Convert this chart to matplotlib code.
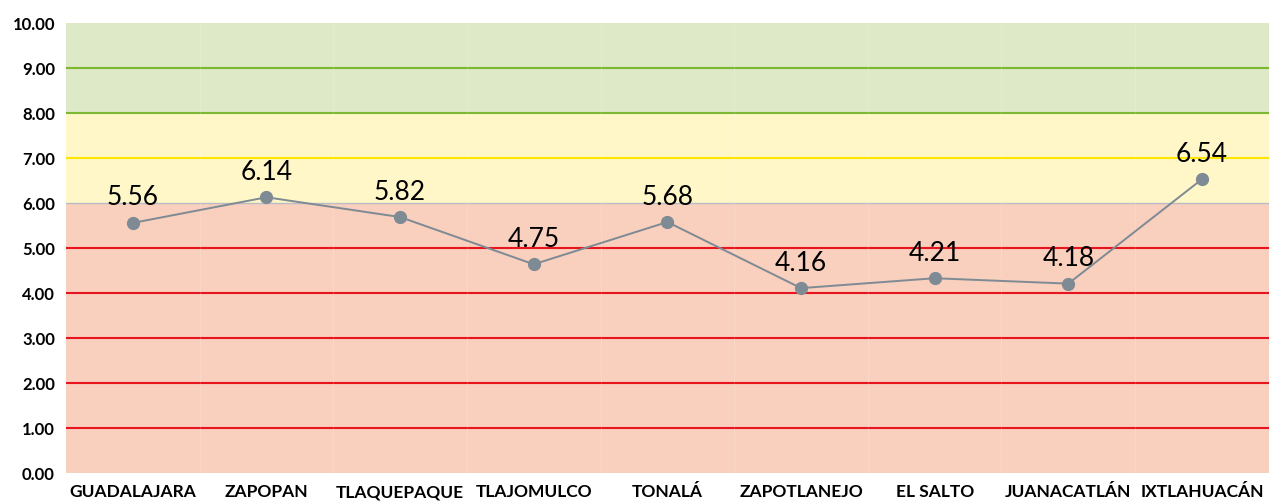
import numpy as np
import matplotlib
matplotlib.use('Agg')
import matplotlib.pyplot as plt

plt.rcParams['font.family'] = ['Lato', 'DejaVu Sans']

# Datos
municipios = ['GUADALAJARA', 'ZAPOPAN', 'TLAQUEPAQUE', 'TLAJOMULCO', 'TONALÁ',
              'ZAPOTLANEJO', 'EL SALTO', 'JUANACATLÁN', 'IXTLAHUACÁN']
valores = [5.56, 6.13, 5.69, 4.64, 5.58, 4.11, 4.33, 4.21, 6.53]
etiquetas = ['5.56', '6.14', '5.82', '4.75', '5.68', '4.16', '4.21', '4.18', '6.54']

# Rangos de semaforo (inicio, fin, color)
bandas = [(0, 6, '#F9CFBD'), (6, 8, '#FFF7C7'), (8, 10, '#DDE9C7')]
lineas = {1: '#E8141E', 2: '#E8141E', 3: '#E8141E', 4: '#E8141E', 5: '#E8141E',
          6: '#B9BCC6', 7: '#FFE600', 8: '#7DB833', 9: '#7DB833'}

fig = plt.figure(figsize=(12.7, 5.04), dpi=100)
ax = fig.add_axes([0.052, 0.0615, 0.947, 0.8925])

n = len(municipios)
x = np.arange(n)

for y0, y1, c in bandas:
    ax.axhspan(y0, y1, color=c, zorder=0, lw=0)
for y, c in lineas.items():
    ax.axhline(y, color=c, lw=1.5 if c != '#B9BCC6' else 1.0, zorder=1)
for k in range(1, n):
    ax.axvline(k - 0.5, color='white', lw=0.8, alpha=0.15, zorder=1)

ax.plot(x, valores, color='#7E8A94', lw=1.4, marker='o', markersize=8.5, zorder=3)

for xi, yi, t in zip(x, valores, etiquetas):
    ax.annotate(t, (xi, yi), xytext=(0, 9), textcoords='offset points',
                ha='center', va='bottom', fontsize=19, color='black')

ax.set_xlim(-0.5, n - 0.5)
ax.set_ylim(0, 10)
ax.set_yticks(np.arange(0, 11, 1))
ax.set_yticklabels([f'{v:.2f}' for v in range(0, 11)], fontsize=12, fontweight='bold')
ax.set_xticks(x)
ax.set_xticklabels(municipios, fontsize=12.5, fontweight='bold')
ax.tick_params(length=0, pad=8)
for s in ax.spines.values():
    s.set_visible(False)

fig.savefig('out.png', dpi=100)
